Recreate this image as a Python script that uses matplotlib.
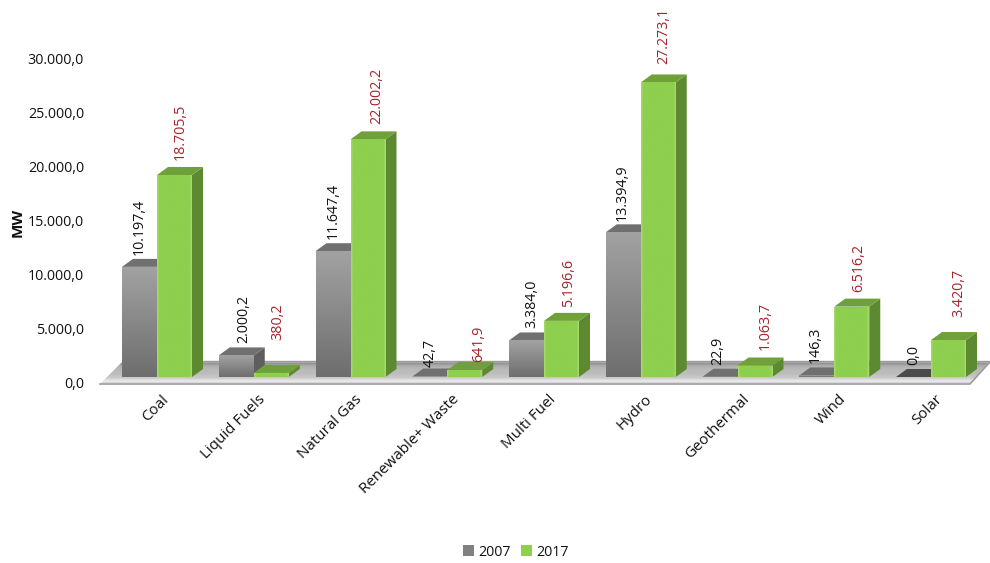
import numpy as np
import matplotlib
matplotlib.use("Agg")
import matplotlib.pyplot as plt
from matplotlib.patches import Polygon, Patch
from matplotlib.colors import LinearSegmentedColormap
from matplotlib.transforms import ScaledTranslation

plt.rcParams['font.family'] = ['Open Sans', 'DejaVu Sans']

categories = ['Coal', 'Liquid Fuels', 'Natural Gas', 'Renewable+ Waste', 'Multi Fuel',
              'Hydro', 'Geothermal', 'Wind', 'Solar']
series_2007 = [10197.4, 2000.2, 11647.4, 42.7, 3384.0, 13394.9, 22.9, 146.3, 0.0]
series_2017 = [18705.5, 380.2, 22002.2, 641.9, 5196.6, 27273.1, 1063.7, 6516.2, 3420.7]
labels_2007 = ['10.197,4', '2.000,2', '11.647,4', '42,7', '3.384,0', '13.394,9', '22,9', '146,3', '0,0']
labels_2017 = ['18.705,5', '380,2', '22.002,2', '641,9', '5.196,6', '27.273,1', '1.063,7', '6.516,2', '3.420,7']
y_ticks = [0, 5000, 10000, 15000, 20000, 25000, 30000]
y_tick_labels = ['0,0', '5.000,0', '10.000,0', '15.000,0', '20.000,0', '25.000,0', '30.000,0']
series_names = ['2007', '2017']

# layout (pixels)
W, H = 990, 563
PX_LEFT, PX_RIGHT, PX_TOP, PX_ZERO = 100, 990, 59, 383
GROUP = 96.75
BAR = 35
DEPTH_X, DEPTH_Y = 11, 8
BASE_PX = 6
gap_2007 = [12, 12, 12, 9.5, 12, 11, 12, 12, 12]
gap_2017 = [15, 33, 15, 8, 14, 18, 15.5, 15, 23]
shift_2007 = [0, 8, 0, 0, 5, -1, -2, -2, 0]
shift_2017 = [5.5, 7, 9, 14, 7, 6, 10, 7, 10]

fig = plt.figure(figsize=(W / 100, H / 100), dpi=100, facecolor='white')
ax = fig.add_axes([PX_LEFT / W, (H - PX_ZERO) / H, (PX_RIGHT - PX_LEFT) / W, (PX_ZERO - PX_TOP) / H])
XLIM = ((PX_LEFT - 157) / GROUP, (PX_RIGHT - 157) / GROUP)
ax.set_xlim(*XLIM)
ax.set_ylim(0, 30000)
ux = 1 / GROUP
uy = 30000 / (PX_ZERO - PX_TOP)
for s in ax.spines.values():
    s.set_visible(False)
ax.patch.set_alpha(0)


def px_x(px):
    return (px - 157) / GROUP


def px_y(py):
    return (PX_ZERO - py) * uy


def gradient(colors, extent, clip=None, horizontal=False, z=2):
    cmap = LinearSegmentedColormap.from_list('g', colors)
    n = np.linspace(0, 1, 128)
    arr = n[None, :] if horizontal else n[:, None]
    im = ax.imshow(arr, cmap=cmap, extent=extent, origin='upper', aspect='auto', zorder=z,
                   interpolation='bilinear', clip_on=True)
    if clip is not None:
        im.set_clip_path(clip)
    return im


# floor
floor_pts = [(px_x(100), px_y(384)), (px_x(123), px_y(361)), (px_x(990), px_y(361)), (px_x(970), px_y(384))]
floor = Polygon(floor_pts, closed=True, fc='none', ec='none', zorder=1, clip_on=False)
ax.add_patch(floor)
gradient(['#e6e6e6', '#8f8f8f', '#a8a8a8', '#b4b4b4', '#b8b8b8', '#bcbcbc', '#bcbcbc', '#c4c4c4',
          '#c8c8c8', '#e0e0e0', '#ececec', '#a8a8a8'],
         [px_x(100), px_x(990), px_y(384), px_y(361)], clip=floor, z=1)
ax.plot([px_x(123), px_x(990)], [px_y(360.5), px_y(360.5)], color='#9a9a9a', lw=1, zorder=1.5)
ax.plot([px_x(100), px_x(970), px_x(990)], [px_y(384), px_y(384), px_y(362)], color='#9c9c9c', lw=1.2,
        zorder=1.5, clip_on=False)

base = BASE_PX * uy
dx = DEPTH_X * ux
dy = DEPTH_Y * uy
w = BAR * ux


def draw_bar(x0, v, face, side, top, z, horizontal):
    y1 = base + v
    ax.add_patch(Polygon([(x0 + w, base), (x0 + w + dx, base + dy), (x0 + w + dx, y1 + dy), (x0 + w, y1)],
                         fc=side, ec='none', zorder=z))
    ax.add_patch(Polygon([(x0, y1), (x0 + dx, y1 + dy), (x0 + w + dx, y1 + dy), (x0 + w, y1)],
                         fc=top, ec='none', zorder=z))
    rect = ax.bar(x0, v, width=w, bottom=base, align='edge', color=face[0], zorder=z + 0.1, lw=0)[0]
    gradient(face, [x0, x0 + w, base, y1], clip=rect, horizontal=horizontal, z=z + 0.2)
    ax.set_xlim(*XLIM)
    ax.set_ylim(0, 30000)


GREEN_FACE = ['#a8dc70'] + ['#8ecf4e'] * 14 + ['#a8dc70']
x = np.arange(len(categories))
for i in x:
    v07, v17 = series_2007[i], series_2017[i]
    top07 = '#4a4a4a' if v07 == 0 else '#707070'
    draw_bar(i - w, v07, ['#a2a2a2', '#6e6e6e'], '#5e5e5e', top07, 3, False)
    draw_bar(i, v17, GREEN_FACE, '#5d8a30', '#6fa03a', 4, True)

# data labels
for i in x:
    ax.annotate(labels_2007[i], (i - w / 2, base + series_2007[i]),
                xytext=(shift_2007[i], gap_2007[i]), textcoords='offset pixels',
                rotation=90, ha='center', va='bottom', fontsize=10.3, color='#111111', zorder=6)
    ax.annotate(labels_2017[i], (i + w / 2, base + series_2017[i]),
                xytext=(shift_2017[i], gap_2017[i]), textcoords='offset pixels',
                rotation=90, ha='center', va='bottom', fontsize=10.3, color='#a5232b', zorder=6)

# axes
ax.set_yticks(y_ticks)
ax.set_yticklabels(y_tick_labels, fontsize=10.3, color='#111111')
ax.tick_params(axis='y', length=0, pad=11.5)
ax.set_xticks(x)
ax.set_xticklabels(categories, rotation=45, ha='right', va='top', rotation_mode='anchor',
                   fontsize=10.9, color='#111111')
ax.tick_params(axis='x', length=0, pad=0)
off = ScaledTranslation(4 / 100, -9 / 100, fig.dpi_scale_trans)
for lab in ax.get_xticklabels():
    lab.set_transform(lab.get_transform() + off)

fig.text(18 / W, 1 - 222 / H, 'MW', rotation=90, ha='center', va='center', fontsize=11, fontweight='bold',
         color='#111111')

handles = [Patch(facecolor='#808080', edgecolor='none'), Patch(facecolor='#8fd04b', edgecolor='none')]
fig.legend(handles, series_names, loc='center', bbox_to_anchor=(516 / W, 1 - 552 / H), ncol=2, frameon=False,
           fontsize=10.3, handlelength=0.75, handleheight=0.75, handletextpad=0.3, columnspacing=0.7,
           labelcolor='#111111')

fig.savefig('out.png', dpi=100)
